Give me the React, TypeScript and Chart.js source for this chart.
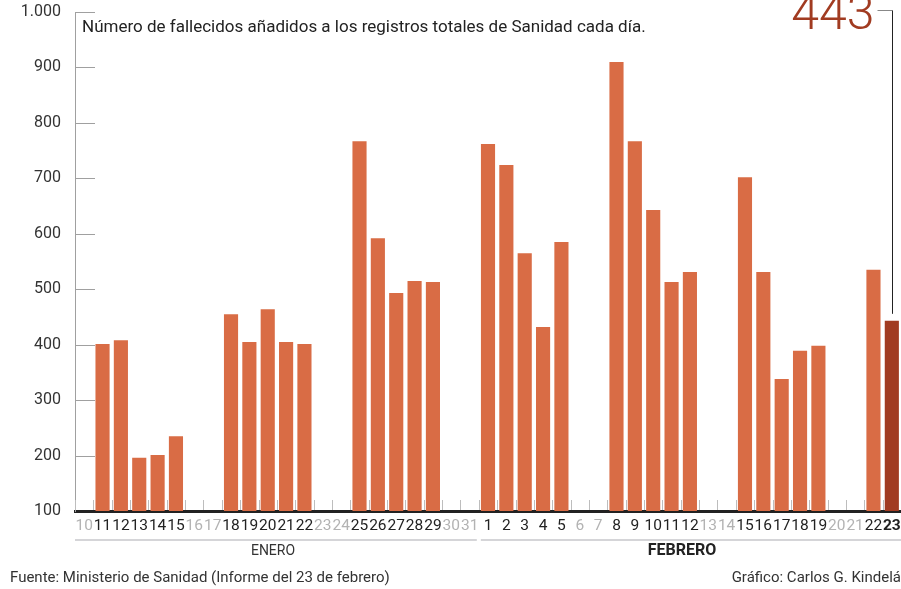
import React, { useEffect, useRef } from "react";
import { Chart, registerables } from "chart.js";

Chart.register(...registerables);

const janDays = ["10","11","12","13","14","15","16","17","18","19","20","21","22","23","24","25","26","27","28","29","30","31"];
const febDays = ["1","2","3","4","5","6","7","8","9","10","11","12","13","14","15","16","17","18","19","20","21","22","23"];
const janValues: (number | null)[] = [null, 401, 408, 196, 201, 235, null, null, 455, 405, 464, 405, 401, null, null, 767, 592, 493, 515, 513, null, null];
const febValues: (number | null)[] = [762, 724, 565, 432, 585, null, null, 910, 767, 643, 513, 531, null, null, 702, 531, 338, 389, 398, null, null, 535, 443];
const yTicks = [100, 200, 300, 400, 500, 600, 700, 800, 900, 1000];

const TITLE = "Número de fallecidos añadidos a los registros totales de Sanidad cada día.";
const SOURCE = "Fuente: Ministerio de Sanidad (Informe del 23 de febrero)";
const CREDIT = "Gráfico: Carlos G. Kindelán";
const MONTH1 = "ENERO";
const MONTH2 = "FEBRERO";

const labels = [...janDays, ...febDays];
const values = [...janValues, ...febValues];
const LAST = values.length - 1;

const FONT = "Roboto";
const BAR = "#d96c45";
const BAR_LAST = "#a13b21";

const overlay = {
  id: "overlay",
  afterDraw(chart: any) {
    const ctx = chart.ctx;
    const area = chart.chartArea;
    const x = chart.scales.x;
    const y = chart.scales.y;
    ctx.save();
    // y tick marks
    ctx.strokeStyle = "#a0a0a0";
    ctx.lineWidth = 1;
    for (const v of yTicks) {
      if (v === 100) continue;
      const py = Math.round(y.getPixelForValue(v)) + 0.5;
      ctx.beginPath();
      ctx.moveTo(area.left, py);
      ctx.lineTo(area.left + 20, py);
      ctx.stroke();
    }
    // x boundary marks
    ctx.strokeStyle = "#bdbdbd";
    const step = x.getPixelForValue(1) - x.getPixelForValue(0);
    for (let i = 0; i <= labels.length; i++) {
      const px = Math.round(x.getPixelForValue(i) - step / 2) + 0.5;
      ctx.beginPath();
      ctx.moveTo(px, area.bottom - 11);
      ctx.lineTo(px, area.bottom - 1);
      ctx.stroke();
    }
    // month separators
    const janEnd = x.getPixelForValue(janDays.length - 1) + step / 2;
    ctx.strokeStyle = "#c8c8cc";
    ctx.lineWidth = 1.5;
    ctx.beginPath();
    ctx.moveTo(area.left, 540);
    ctx.lineTo(janEnd - 2, 540);
    ctx.moveTo(janEnd + 2, 540);
    ctx.lineTo(area.right, 540);
    ctx.stroke();
    ctx.fillStyle = "#333";
    ctx.textAlign = "center";
    ctx.textBaseline = "middle";
    ctx.font = `14px ${FONT}`;
    ctx.fillText(MONTH1, 273, 551);
    ctx.fillStyle = "#222";
    ctx.font = `bold 16px ${FONT}`;
    ctx.fillText(MONTH2, 682, 551);
    // footer
    ctx.font = `15px ${FONT}`;
    ctx.fillStyle = "#333";
    ctx.textAlign = "left";
    ctx.fillText(SOURCE, 10, 578);
    ctx.textAlign = "right";
    const nW = ctx.measureText("n").width;
    ctx.fillText(CREDIT, chart.width + nW, 578);
    // title
    ctx.textAlign = "left";
    ctx.textBaseline = "alphabetic";
    ctx.font = `17px ${FONT}`;
    ctx.fillStyle = "#222";
    ctx.fillText(TITLE, 82, 32);
    // annotation
    const bar = chart.getDatasetMeta(0).data[LAST];
    const bx = Math.round(bar.x) + 0.5;
    ctx.strokeStyle = "#888";
    ctx.lineWidth = 1;
    ctx.beginPath();
    ctx.moveTo(bx - 15, 10.5);
    ctx.lineTo(bx, 10.5);
    ctx.stroke();
    ctx.strokeStyle = "#222";
    ctx.beginPath();
    ctx.moveTo(bx, 10.5);
    ctx.lineTo(bx, bar.y - 7);
    ctx.stroke();
    ctx.fillStyle = BAR_LAST;
    ctx.font = `300 50px ${FONT}`;
    ctx.textAlign = "right";
    ctx.fillText(String(values[LAST]), bx - 18, 29);
    ctx.restore();
  },
};

export default function App() {
  const ref = useRef<HTMLCanvasElement>(null);
  useEffect(() => {
    if (!ref.current) return;
    const chart = new Chart(ref.current, {
      type: "bar",
      data: {
        labels,
        datasets: [
          {
            data: values as any,
            backgroundColor: values.map((_, i) => (i === LAST ? BAR_LAST : BAR)),
            barPercentage: 0.77,
            categoryPercentage: 1,
          },
        ],
      },
      options: {
        responsive: false,
        animation: false,
        layout: { padding: { top: 12, left: 0, right: 0, bottom: 0 } },
        plugins: { legend: { display: false }, tooltip: { enabled: false }, title: { display: false } },
        scales: {
          x: {
            offset: true,
            grid: { display: false, drawTicks: false, offset: true },
            border: { display: true, color: "#222", width: 3 },
            ticks: {
              autoSkip: false,
              maxRotation: 0,
              minRotation: 0,
              padding: 6,
              color: (c: any) => (values[c.index] == null ? "#b3b3b3" : "#222"),
              font: (c: any) => ({ family: FONT, size: 15.5, weight: c.index === LAST ? "bold" : "normal" }),
            },
            afterFit: (s: any) => {
              s.height = 78;
              s.paddingLeft = 0;
              s.paddingRight = 0;
            },
          },
          y: {
            min: 100,
            max: 1000,
            grid: { display: false, drawTicks: false },
            border: { display: true, color: "#a0a0a0", width: 1 },
            ticks: {
              stepSize: 100,
              padding: 14,
              color: "#333",
              font: { family: FONT, size: 16 },
              callback: (v: any) => (Number(v) >= 1000 ? Number(v).toLocaleString("de-DE") : String(v)),
            },
            afterFit: (s: any) => {
              s.width = 75;
              s.paddingTop = 0;
              s.paddingBottom = 0;
            },
          },
        },
      },
      plugins: [overlay],
    });
    return () => chart.destroy();
  }, []);
  return (
    <div style={{ position: "fixed", left: 0, top: 0, width: 901, height: 589, overflow: "hidden", background: "#fff" }}>
      <canvas ref={ref} width={901} height={589} style={{ display: "block" }} />
    </div>
  );
}
